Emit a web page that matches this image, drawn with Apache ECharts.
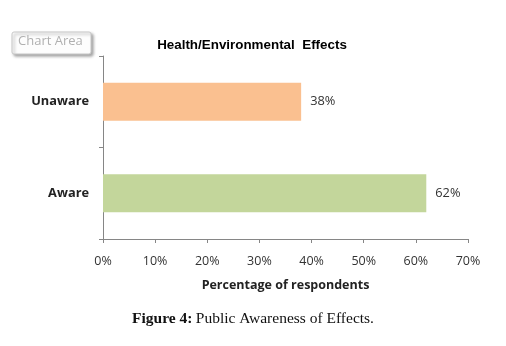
<!DOCTYPE html>
<html>
<head>
<meta charset="utf-8">
<script src="https://cdn.jsdelivr.net/npm/echarts@6/dist/echarts.min.js"></script>
<style>
  html, body { margin: 0; padding: 0; background: #fff; }
  #chart { width: 506px; height: 346px; }
</style>
</head>
<body>
<div id="chart"></div>
<script>
// 資料
const categories = ['Aware', 'Unaware'];
const values = [62, 38];
const barColors = ['#C3D69B', '#FAC090'];
const xTicks = [0, 10, 20, 30, 40, 50, 60, 70];

const chart = echarts.init(document.getElementById('chart'));

const option = {
  backgroundColor: '#fff',
  animation: false,
  title: {
    text: 'Health/Environmental  Effects',
    left: 247,
    textAlign: 'center',
    top: 34,
    textStyle: { fontFamily: 'Liberation Sans', fontSize: 13.4, fontWeight: 'bold', color: '#000' }
  },
  grid: { left: 103, top: 56, width: 365, height: 183 },
  xAxis: {
    type: 'value',
    min: 0,
    max: 70,
    interval: 10,
    name: 'Percentage of respondents',
    nameLocation: 'middle',
    nameGap: 40,
    nameTextStyle: { fontFamily: 'Open Sans', fontSize: 12.5, fontWeight: 'bold', color: '#222' },
    axisLine: { show: true, lineStyle: { color: '#868686' } },
    axisTick: { show: true, length: 4, lineStyle: { color: '#868686' } },
    axisLabel: {
      margin: 16,
      fontFamily: 'Open Sans',
      fontSize: 12.5,
      color: '#333',
      formatter: (v) => xTicks.includes(v) ? v + '%' : ''
    },
    splitLine: { show: false }
  },
  yAxis: {
    type: 'category',
    data: categories,
    axisLine: { show: true, lineStyle: { color: '#868686' } },
    axisTick: { show: true, length: 4, lineStyle: { color: '#868686' } },
    axisLabel: {
      margin: 14,
      fontFamily: 'Open Sans',
      fontSize: 12.8,
      fontWeight: 'bold',
      color: '#222'
    }
  },
  series: [
    {
      type: 'bar',
      barWidth: 38,
      data: values.map((v, i) => ({ value: v, itemStyle: { color: barColors[i] } })),
      label: {
        show: true,
        position: 'right',
        distance: 9,
        fontFamily: 'Open Sans',
        fontSize: 12.8,
        color: '#333',
        formatter: (p) => p.value + '%'
      }
    }
  ],
  graphic: [
    {
      type: 'rect',
      shape: { x: 12, y: 32, width: 79, height: 22, r: 2 },
      style: {
        fill: '#fdfdfd',
        stroke: '#c8c8c8',
        lineWidth: 1,
        shadowBlur: 3,
        shadowOffsetX: 2,
        shadowOffsetY: 2,
        shadowColor: 'rgba(0,0,0,0.35)'
      }
    },
    {
      type: 'text',
      left: 18,
      top: 35,
      style: { text: 'Chart Area', fontFamily: 'Open Sans', fontSize: 13, fill: '#b0b0b0' }
    },
    {
      type: 'text',
      left: 'center',
      top: 311,
      style: {
        text: '{b|Figure 4:} {r|Public Awareness of Effects.}',
        rich: {
          b: { fontFamily: 'Liberation Serif', fontSize: 15.5, fontWeight: 'bold', fill: '#111' },
          r: { fontFamily: 'Liberation Serif', fontSize: 15.5, fill: '#111' }
        }
      }
    }
  ]
};

chart.setOption(option);
</script>
</body>
</html>
